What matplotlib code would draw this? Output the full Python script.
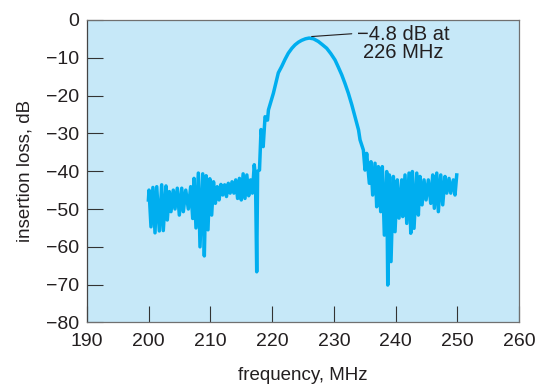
import matplotlib.pyplot as plt
import matplotlib as mpl

# frequency (MHz) and insertion loss (dB)
freq = [199.95, 200.05, 200.37, 200.68, 201.02, 201.30, 201.72, 202.10, 202.36, 202.80,
        203.01, 203.34, 203.61, 203.98, 204.26, 204.63, 204.96, 205.35, 205.61, 206.00,
        206.42, 206.80, 207.13, 207.34, 207.66, 208.04, 208.31, 208.75, 209.01, 209.30,
        209.60, 209.90, 210.20, 210.50, 210.80, 211.10, 211.40, 211.70, 212.00, 212.30,
        212.60, 212.90, 213.20, 213.50, 213.80, 214.10, 214.40, 214.70, 215.00, 215.30,
        215.60, 215.90, 216.20, 216.50, 216.80, 217.10, 217.30, 217.50, 217.65, 217.95,
        218.20, 218.55, 218.85, 219.25, 219.40, 220.20, 220.47, 221.00, 221.55, 222.10,
        222.62, 223.20, 223.71, 224.25, 224.79, 225.40, 226.00, 226.70, 227.48, 228.10,
        228.84, 229.50, 230.19, 230.70, 231.27, 231.80, 232.35, 232.90, 233.43, 234.00,
        234.24, 234.78, 235.05, 235.32, 235.75, 236.02, 236.29, 236.67, 236.94, 237.21,
        237.59, 237.85, 238.18, 238.56, 238.73, 238.99, 239.26, 239.64, 239.91, 240.28,
        240.56, 241.00, 241.16, 241.53, 241.81, 242.18, 242.46, 242.72, 242.99, 243.43,
        243.69, 243.96, 244.29, 244.61, 244.94, 245.31, 245.70, 246.02, 246.28, 246.67,
        246.93, 247.32, 247.64, 248.01, 248.29, 248.66, 248.94, 249.36, 249.63, 249.91]
loss = [-47.6, -45.0, -54.7, -44.3, -56.3, -44.1, -55.8, -43.6, -55.7, -43.9,
        -52.9, -45.4, -50.7, -45.0, -50.0, -44.5, -51.6, -44.5, -50.7, -45.0,
        -50.0, -44.1, -52.5, -41.9, -55.0, -40.5, -60.0, -40.7, -62.4, -41.2,
        -55.5, -42.0, -51.6, -42.8, -48.5, -44.1, -47.6, -43.5, -46.3, -43.6,
        -46.7, -43.2, -45.8, -42.8, -45.8, -42.3, -47.2, -41.9, -47.6, -40.7,
        -47.2, -41.0, -46.5, -42.3, -45.8, -38.3, -41.5, -66.6, -40.0, -39.7,
        -29.0, -33.5, -25.6, -26.5, -23.8, -19.4, -17.6, -14.0, -12.3, -10.4,
        -8.8, -7.5, -6.6, -5.9, -5.4, -5.0, -4.8, -5.0, -5.7, -6.5,
        -7.5, -8.9, -10.6, -12.4, -14.5, -16.8, -19.4, -22.4, -25.6, -29.1,
        -31.7, -34.4, -39.7, -35.3, -43.2, -37.5, -46.3, -37.9, -49.4, -38.8,
        -50.7, -38.8, -56.9, -40.1, -70.1, -41.0, -63.9, -41.4, -56.0, -42.3,
        -52.4, -42.3, -52.0, -41.0, -53.8, -40.5, -56.4, -40.1, -55.1, -40.5,
        -51.6, -41.4, -48.9, -42.3, -47.6, -42.3, -48.5, -41.0, -49.8, -40.5,
        -50.7, -41.0, -48.9, -41.4, -45.8, -41.9, -45.8, -42.3, -46.3, -41.0]

xticks = [190, 200, 210, 220, 230, 240, 250, 260]
yticks = [0, -10, -20, -30, -40, -50, -60, -70, -80]

mpl.rcParams['font.family'] = ['Liberation Sans', 'DejaVu Sans']
plt.rcParams['font.size'] = 14

fig = plt.figure(figsize=(5.38, 3.84), dpi=100)
ax = fig.add_axes([0.1617, 0.1602, 0.803, 0.788])
ax.set_facecolor('#c6e8f8')

ax.plot(freq, loss, color='#00aeef', lw=2.5, solid_joinstyle='round')

ax.set_xlim(190, 260)
ax.set_ylim(-80, 0)
ax.set_xticks(xticks)
ax.set_yticks(yticks)

for s in ax.spines.values():
    s.set_color('#707070')
    s.set_linewidth(0.9)
ax.spines['left'].set_color('#444444')

ax.tick_params(axis='both', direction='in', length=11.5, width=0.8,
               color='#333333', labelsize=14, labelcolor='#231f20')
ax.tick_params(axis='x', pad=7.5)
ax.tick_params(axis='y', pad=5.5)

ax.set_xlabel('frequency, MHz', fontsize=13.5, color='#231f20', labelpad=12)
ax.set_ylabel('insertion loss, dB', fontsize=13.5, color='#231f20', labelpad=9)

ax.annotate('\u22124.8 dB at\n226 MHz', xy=(226.4, -4.4), xytext=(233.8, -1.4),
            ha='left', va='top', multialignment='center', fontsize=14.5,
            color='#231f20', linespacing=0.95,
            arrowprops=dict(arrowstyle='-', color='#231f20', lw=0.8,
                            relpos=(0, 0.78), shrinkA=2, shrinkB=0))

plt.savefig('out.png', dpi=100)
plt.close()
